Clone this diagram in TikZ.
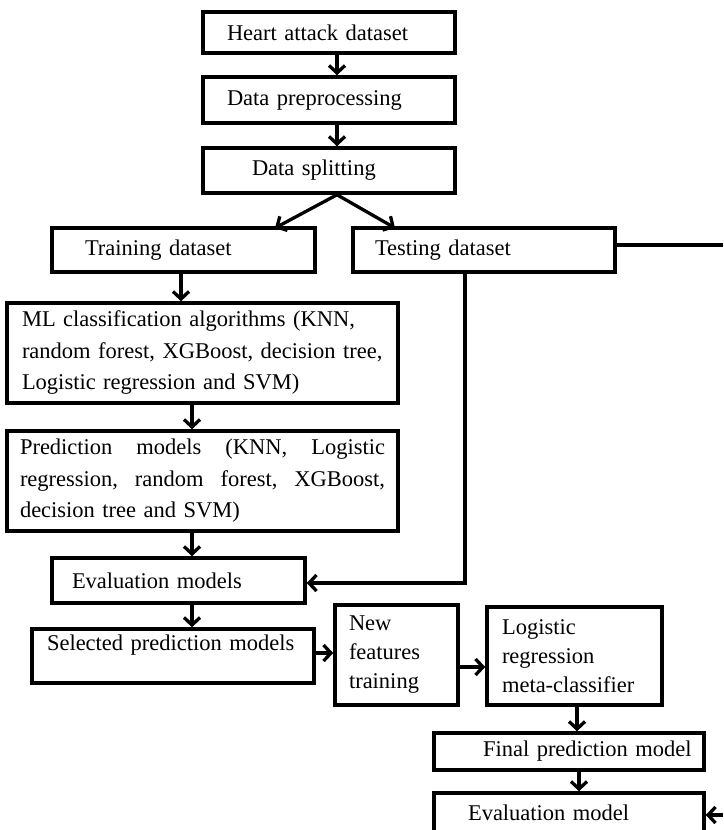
\documentclass[tikz,border=0pt]{standalone}
\usepackage{fontspec}
\setmainfont{Liberation Serif}
\usetikzlibrary{arrows.meta}
\newcommand{\bodyfont}{\fontsize{22.5}{31.5}\selectfont}
\newcommand{\rightfont}{\fontsize{22.5}{29}\selectfont}
\tikzset{
  box/.style={draw, line width=3.5pt, inner ysep=0pt, align=left, font=\bodyfont},
  arr/.style={line width=3.3pt, -{Straight Barb[length=7.5pt,width=16pt]}},
  link/.style={line width=3.3pt},
}
% place a box: [options] name, left, right, top, bottom, left indent, right indent
\newcommand{\mybox}[8][]{%
  \pgfmathsetmacro{\bw}{#4-#3}%
  \pgfmathsetmacro{\bh}{#6-#5}%
  \pgfmathsetmacro{\bx}{(#3+#4)/2}%
  \pgfmathsetmacro{\by}{(#5+#6)/2}%
  \pgfmathsetmacro{\tw}{\bw-2*#8}%
  \pgfmathsetmacro{\ls}{#7-#8}%
  \node[box, #1, text width=\tw pt, inner xsep=#8pt, minimum height=\bh pt,
        execute at begin node={\leftskip=\ls pt\relax}] (#2) at (\bx,\by)}
\newcommand{\jline}[1]{\leavevmode\hbox to 365pt{#1}}
\begin{document}
\begin{tikzpicture}[x=1pt,y=-1pt]
\useasboundingbox (0,0) rectangle (723,830);

\mybox{heart}{203}{455}{12}{53}{24}{10} {Heart attack dataset};
\mybox{prep}{203}{455}{77}{123}{24}{10} {Data preprocessing};
\mybox{split}{203}{455}{148}{193}{49}{10} {Data splitting};
\mybox{train}{52}{315}{228}{272}{33}{10} {Training dataset};
\mybox{test}{353}{615}{228}{272}{22}{10} {Testing dataset};
\mybox{ml}{7}{398}{303}{403}{15}{8} {ML classification algorithms (KNN,\\random forest, XGBoost, decision tree,\\Logistic regression and SVM)};
\mybox{pred}{7}{398}{431}{531}{13}{13} {\jline{Prediction\hfill models\hfill (KNN,\hfill Logistic}\\\jline{regression,\hfill random\hfill forest,\hfill XGBoost,}\\decision tree and SVM)};
\mybox{evals}{52}{305}{558}{603}{20}{10} {Evaluation models};
\mybox{sel}{32}{314}{629}{683}{15}{8} {Selected prediction models\\[-4pt]\mbox{}};
\mybox[font=\rightfont]{newf}{335}{458}{605}{705}{14}{8} {New\\features\\training};
\mybox[font=\rightfont]{logi}{487}{662}{607}{705}{15}{8} {Logistic\\regression\\meta-classifier};
\mybox{final}{434}{704}{733}{770}{49}{8} {Final prediction model};
\mybox{evalm}{434}{704}{793}{833}{34}{8} {Evaluation model};

\coordinate (c1) at (337,0);
\coordinate (c2) at (192,0);
\coordinate (c3) at (181,0);
\coordinate (c4) at (465,0);
\coordinate (c5) at (579,0);
\coordinate (c6) at (577,0);
\coordinate (rt1) at (723,245);
\coordinate (rt2) at (723,815);
\coordinate (trtop) at (275,228);
\coordinate (tetop) at (395,228);

\draw[arr] (heart.south -| c1) -- (prep.north -| c1);
\draw[arr] (prep.south -| c1) -- (split.north -| c1);
\draw[arr] (split.south -| c1) -- (trtop);
\draw[arr] (split.south -| c1) -- (tetop);
\draw[link] (test.east |- rt1) -- (rt1);
\draw[arr] (test.south -| c4) |- ([yshift=-2.5pt]evals.east);
\draw[arr] (train.south -| c3) -- (ml.north -| c3);
\draw[arr] (ml.south -| c2) -- (pred.north -| c2);
\draw[arr] (pred.south -| c2) -- (evals.north -| c2);
\draw[arr] (evals.south -| c2) -- (sel.north -| c2);
\draw[arr] ([yshift=3pt]sel.east) -- ([yshift=3pt]sel.east -| newf.west);
\draw[arr] ([yshift=-12pt]newf.east) -- ([yshift=-12pt]newf.east -| logi.west);
\draw[arr] (logi.south -| c6) -- (final.north -| c6);
\draw[arr] (final.south -| c5) -- (evalm.north -| c5);
\draw[arr] (rt2) -- (rt2 -| evalm.east);
\end{tikzpicture}
\end{document}
